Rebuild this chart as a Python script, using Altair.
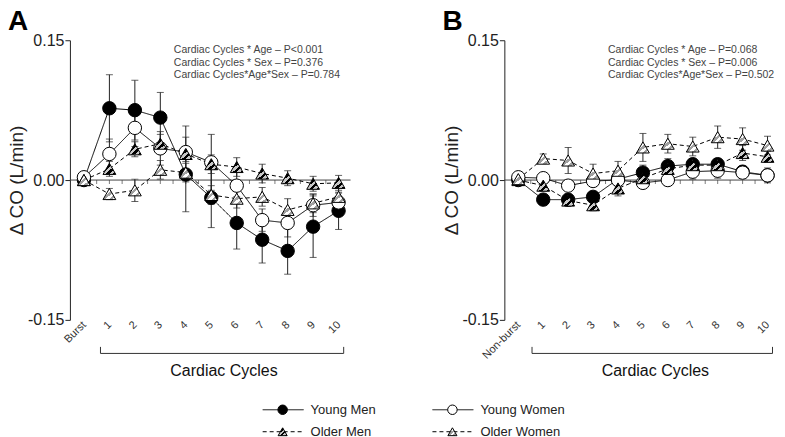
import altair as alt
import pandas as pd

FONT = "Liberation Sans"

cats_A = ["Burst", "1", "2", "3", "4", "5", "6", "7", "8", "9", "10"]
cats_B = ["Non-burst", "1", "2", "3", "4", "5", "6", "7", "8", "9", "10"]
groups = ["Young Men", "Young Women", "Older Men", "Older Women"]

# Panel A values (L/min) and SEM
A_ym = [0.000, 0.077, 0.075, 0.067, 0.006, -0.019, -0.046, -0.064, -0.076, -0.050, -0.033]
A_ym_se = [0.0, 0.036, 0.032, 0.027, 0.040, 0.032, 0.028, 0.025, 0.025, 0.033, 0.020]
A_yw = [0.003, 0.028, 0.056, 0.034, 0.030, 0.019, -0.006, -0.043, -0.046, -0.027, -0.024]
A_yw_se = [0.0, 0.016, 0.020, 0.018, 0.028, 0.030, 0.015, 0.012, 0.015, 0.012, 0.010]
A_om = [0.000, 0.012, 0.033, 0.039, 0.028, 0.017, 0.014, 0.007, 0.002, -0.004, -0.003]
A_om_se = [0.0, 0.008, 0.008, 0.010, 0.008, 0.010, 0.010, 0.010, 0.008, 0.008, 0.008]
A_ow = [0.000, -0.015, -0.011, 0.011, 0.008, -0.016, -0.020, -0.018, -0.032, -0.025, -0.018]
A_ow_se = [0.0, 0.006, 0.012, 0.010, 0.010, 0.010, 0.010, 0.010, 0.012, 0.010, 0.010]

# Panel B values (L/min) and SEM
B_ym = [0.000, -0.021, -0.021, -0.018, 0.001, 0.008, 0.015, 0.017, 0.017, 0.009, 0.005]
B_ym_se = [0.0, 0.006, 0.006, 0.006, 0.006, 0.008, 0.008, 0.006, 0.006, 0.006, 0.006]
B_yw = [0.003, 0.002, -0.006, -0.001, 0.000, -0.003, 0.000, 0.009, 0.010, 0.008, 0.005]
B_yw_se = [0.0, 0.004, 0.005, 0.006, 0.006, 0.005, 0.006, 0.008, 0.008, 0.006, 0.008]
B_om = [0.000, -0.006, -0.022, -0.027, -0.009, 0.002, 0.012, 0.016, 0.016, 0.029, 0.025]
B_om_se = [0.0, 0.006, 0.006, 0.006, 0.008, 0.006, 0.006, 0.006, 0.006, 0.008, 0.006]
B_ow = [0.001, 0.023, 0.021, 0.007, 0.010, 0.035, 0.039, 0.036, 0.046, 0.044, 0.037]
B_ow_se = [0.0, 0.005, 0.014, 0.010, 0.010, 0.015, 0.010, 0.010, 0.012, 0.012, 0.010]

annot_A = ["Cardiac Cycles * Age \u2013 P<0.001",
           "Cardiac Cycles * Sex \u2013 P=0.376",
           "Cardiac Cycles*Age*Sex \u2013 P=0.784"]
annot_B = ["Cardiac Cycles * Age \u2013 P=0.068",
           "Cardiac Cycles * Sex \u2013 P=0.006",
           "Cardiac Cycles*Age*Sex \u2013 P=0.502"]

y_ticks = [-0.15, 0.0, 0.15]


def hatch(dark, light, n=7):
    stops = []
    for i in range(n):
        c = dark if i % 2 == 0 else light
        stops.append(alt.GradientStop(offset=i / n, color=c))
        stops.append(alt.GradientStop(offset=(i + 1) / n, color=c))
    return alt.LinearGradient(gradient="linear", stops=stops, x1=0, y1=0, x2=1, y2=1)


STYLE = {
    "Young Men": dict(shape="circle", fill="black", size=180, dash=[1, 0]),
    "Young Women": dict(shape="circle", fill="white", size=180, dash=[1, 0]),
    "Older Men": dict(shape="triangle-up", fill=hatch("#000000", "#c8c8c8"), size=165, dash=[4, 3]),
    "Older Women": dict(shape="triangle-up", fill=hatch("#ffffff", "#a0a0a0"), size=165, dash=[4, 3]),
}


def make_df(cats, series):
    rows = []
    for g, (vals, ses) in zip(groups, series):
        for i, (v, s) in enumerate(zip(vals, ses)):
            rows.append({"i": i, "group": g, "val": v, "lo": v - s, "hi": v + s, "se": s})
    return pd.DataFrame(rows)


def panel(cats, series, annot, letter, width, xdom, ann_x, br_l, br_r):
    df = make_df(cats, series)
    n = len(cats)
    label_arr = "[" + ",".join("'%s'" % c for c in cats) + "]"
    xscale = alt.Scale(domain=xdom, nice=False, zero=False)
    yscale = alt.Scale(domain=[-0.15, 0.15], nice=False)
    xaxis = alt.Axis(title=None, values=list(range(n)), labelExpr=label_arr + "[datum.value]",
                     labelAngle=-45, labelAlign="right", labelBaseline="middle",
                     domain=False, ticks=False, grid=False,
                     labelFontSize=11, labelColor="#333333", labelPadding=3,
                     labelFont=FONT, labelOverlap=False, labelBound=False, labelFlush=False,
                     labelSeparation=0)
    yaxis = alt.Axis(values=y_ticks, title="\u0394 CO (L/min)", grid=False,
                     labelExpr="replace(format(datum.value, '.2f'), '\u2212', '-')",
                     tickSize=5, tickColor="#222222", domainColor="#222222",
                     labelFontSize=16, labelColor="#222222", labelPadding=1,
                     titleFontSize=19, titleFontWeight="normal", titleColor="#222222",
                     titleX=-43, titleY=140, labelFont=FONT, titleFont=FONT)

    def X(f):
        return alt.X(f, scale=xscale, axis=xaxis)

    def Y(f):
        return alt.Y(f, scale=yscale, axis=yaxis)

    zero = alt.Chart(pd.DataFrame({"z": [0.0]})).mark_rule(color="#444444", strokeWidth=1).encode(
        y=Y("z:Q"))
    tick_pos = [k * 0.5 for k in range(2 * n - 1)]
    tick_df = pd.DataFrame({"t": tick_pos, "z": [0.0] * len(tick_pos)})
    zticks = alt.Chart(tick_df).mark_tick(orient="vertical", size=4, thickness=1, yOffset=2,
                                          color="#444444").encode(x=X("t:Q"), y=Y("z:Q"))

    lines = alt.Chart(df).mark_line(color="black", strokeWidth=1).encode(
        x=X("i:Q"), y=Y("val:Q"), detail="group:N",
        strokeDash=alt.StrokeDash("group:N", scale=alt.Scale(domain=groups,
                                  range=[STYLE[g]["dash"] for g in groups]), legend=None))

    err = df[df["se"] > 0]
    ebase = alt.Chart(err)
    erule = ebase.mark_rule(color="#222222", strokeWidth=1).encode(
        x=X("i:Q"), y=Y("lo:Q"), y2="hi:Q")
    ecap1 = ebase.mark_tick(color="#222222", size=7, thickness=1, orient="horizontal").encode(
        x=X("i:Q"), y=Y("lo:Q"))
    ecap2 = ebase.mark_tick(color="#222222", size=7, thickness=1, orient="horizontal").encode(
        x=X("i:Q"), y=Y("hi:Q"))

    pts = []
    for g in groups:
        st = STYLE[g]
        pts.append(alt.Chart(df[df["group"] == g]).mark_point(
            shape=st["shape"], filled=True, fill=st["fill"], stroke="black",
            strokeWidth=1, size=st["size"], opacity=1).encode(x=X("i:Q"), y=Y("val:Q")))

    br = pd.DataFrame({"a": [br_l], "b": [br_r], "y": [-0.186], "yt": [-0.179]})
    brk = alt.Chart(br).mark_rule(color="#333333", strokeWidth=1).encode(
        x=X("a:Q"), x2="b:Q", y=Y("y:Q"))
    brl = alt.Chart(br).mark_rule(color="#333333", strokeWidth=1).encode(
        x=X("a:Q"), y=Y("y:Q"), y2="yt:Q")
    brr = alt.Chart(br).mark_rule(color="#333333", strokeWidth=1).encode(
        x=X("b:Q"), y=Y("y:Q"), y2="yt:Q")
    ttl = alt.Chart(pd.DataFrame({"c": [(n - 1) / 2 + 0.5], "y": [-0.205],
                                  "t": ["Cardiac Cycles"]})).mark_text(
        fontSize=16, font=FONT, color="#111111", baseline="middle").encode(
        x=X("c:Q"), y=Y("y:Q"), text="t:N")

    ann = alt.Chart(pd.DataFrame({"c": [ann_x], "y": [0.139], "t": [annot]})).mark_text(
        fontSize=10.5, font=FONT, color="#444444", align="left", baseline="middle",
        lineHeight=12.5).encode(x=X("c:Q"), y=Y("y:Q"), text="t")

    layers = [zero, zticks, lines, erule, ecap1, ecap2] + pts + [brk, brl, brr, ttl, ann]
    return alt.layer(*layers).properties(
        width=width, height=280,
        title=alt.TitleParams(letter, anchor="start", frame="bounds", fontSize=28,
                              fontWeight="bold", font=FONT, color="black", offset=-4))


pA = panel(cats_A, [(A_ym, A_ym_se), (A_yw, A_yw_se), (A_om, A_om_se), (A_ow, A_ow_se)],
           annot_A, "A", 281, [-0.55, 10.47], 3.53, 0.65, 10.2)
pB = panel(cats_B, [(B_ym, B_ym_se), (B_yw, B_yw_se), (B_om, B_om_se), (B_ow, B_ow_se)],
           annot_B, "B", 266, [-0.56, 10.1], 3.6, 0.55, 10.2)

top = alt.hconcat(pA, pB, spacing=91)

# Legend (positions relative to the left plot's origin)
leg_col = [0, 1, 0, 1]
leg_row = [0, 0, 1, 1]
col_x = [213, 383]
leg_rows = []
for g, c, r in zip(groups, leg_col, leg_row):
    leg_rows.append({"group": g, "x": col_x[c], "x0": col_x[c] - 20, "x1": col_x[c] + 21,
                     "tx": col_x[c] + 28, "row": r})
ldf = pd.DataFrame(leg_rows)
LW = 600
lx = alt.Scale(domain=[0, LW], nice=False)
ly = alt.Scale(domain=[0, 1], reverse=True, nice=False)
leg_layers = []
for g in groups:
    st = STYLE[g]
    d = ldf[ldf["group"] == g]
    leg_layers.append(alt.Chart(d).mark_rule(color="black", strokeWidth=1, strokeDash=st["dash"]).encode(
        x=alt.X("x0:Q", scale=lx, axis=None), x2="x1:Q", y=alt.Y("row:Q", scale=ly, axis=None)))
    leg_layers.append(alt.Chart(d).mark_point(shape=st["shape"], filled=True, fill=st["fill"],
                                              stroke="black", strokeWidth=1,
                                              size=st["size"] * 0.5, opacity=1).encode(
        x=alt.X("x:Q", scale=lx, axis=None), y=alt.Y("row:Q", scale=ly, axis=None)))
leg_layers.append(alt.Chart(ldf).mark_text(align="left", baseline="middle", fontSize=13,
                                           font=FONT, color="#222222").encode(
    x=alt.X("tx:Q", scale=lx, axis=None), y=alt.Y("row:Q", scale=ly, axis=None), text="group:N"))
legend = alt.layer(*leg_layers).properties(width=LW, height=22)

chart = alt.vconcat(top, legend, spacing=23).properties(padding=0).configure(
    font=FONT).configure_view(stroke=None, strokeWidth=0)

chart.save("out.html", embed_options={"renderer": "svg", "actions": False})
